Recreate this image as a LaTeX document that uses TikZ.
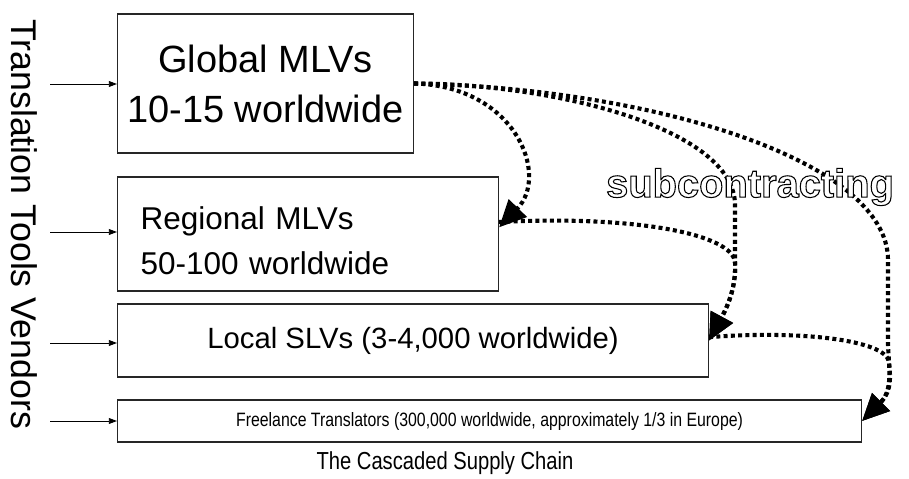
\documentclass[tikz,border=0pt]{standalone}
\usepackage{fontspec}
\setmainfont{Liberation Sans}
\newfontfamily\narrowfont[FakeStretch=0.82]{Liberation Sans}
\usetikzlibrary{arrows.meta}
% hollow letters: white fill, black stroke
\newcommand{\hollowtext}[1]{\special{pdf:literal direct 2 Tr 0.9 w 1 g 0 G}#1\special{pdf:literal direct 0 Tr 0 g 0 G}}

\begin{document}
\begin{tikzpicture}
[x=0.03cm, y=-0.03cm,
  tierDecorate/.style={draw=black!85, line width=0.9pt, inner sep=0pt, anchor=west},%
  feedDecorate/.style={-{Triangle[length=7pt,width=5pt]}, line width=0.8pt},%
  subDecorate/.style={-{Triangle[length=23pt,width=21pt]}, line width=3.5pt,
    dash pattern=on 3.4pt off 2.8pt}]
\useasboundingbox (0,0) rectangle (909,478);
%% tiers of the supply chain
\node (global) at (117,83.5) [tierDecorate, minimum width=8.88cm, minimum height=4.17cm,
  align=center, font=\fontsize{32.4}{42.7}\selectfont] {Global MLVs\\10-15 worldwide};
\node (regional) at (117,234) [tierDecorate, minimum height=3.42cm, inner xsep=0.69cm,
  text width=10.05cm, align=left, font=\fontsize{26.9}{38.4}\selectfont]
  {\rule{0pt}{31pt}Regional MLVs\\50-100 worldwide};
\node (local) at (117,340.5) [tierDecorate, minimum width=17.73cm, minimum height=2.19cm,
  font=\fontsize{25}{30}\selectfont] {Local SLVs (3-4,000 worldwide)};
\node (freelance) at (117,421) [tierDecorate, minimum width=22.32cm, minimum height=1.26cm,
  font=\narrowfont\fontsize{16.5}{20}\selectfont]
  {Freelance Translators (300,000 worldwide, approximately 1/3 in Europe)};
\node (vendors) at (24,224) [rotate=-90, font=\fontsize{30.5}{36}\selectfont]
  {Translation Tools Vendors};
\node (caption) at (445,463) [font=\narrowfont\fontsize{21}{25}\selectfont]
  {The Cascaded Supply Chain};
%% feeds from the tools vendors
\foreach \tier/\y in {global/84, regional/232, local/343, freelance/421}
{
  \coordinate (feed\tier) at (50,\y);
  \draw[feedDecorate] (feed\tier) -- (feed\tier -| \tier.west);
}
%% subcontracting
\draw[subDecorate] (global.east) .. controls (515,86) and (550,175) .. ([yshift=0.2cm]regional.east);
\draw[subDecorate] ([yshift=0.36cm]regional.east) .. controls (640,215) and (732,235) .. (735,262)
  .. controls (736,282) and (731,300) .. (local.east);
\draw[subDecorate] (global.east) .. controls (560,84) and (735,130) .. (735,205) -- (735,262)
  .. controls (736,282) and (731,300) .. (local.east);
\draw[subDecorate] (global.east) .. controls (650,88) and (888,160) .. (888,260) -- (888,345)
  .. controls (889,368) and (893,390) .. (freelance.east);
\draw[subDecorate] ([yshift=0.1cm]local.east) .. controls (800,330) and (886,340) .. (889,362)
  .. controls (890,374) and (893,390) .. (freelance.east);
\node (subcontracting) at (750,187) [font=\bfseries\fontsize{34}{40}\selectfont]
  {\hollowtext{subcontracting}};
\end{tikzpicture}
\end{document}
